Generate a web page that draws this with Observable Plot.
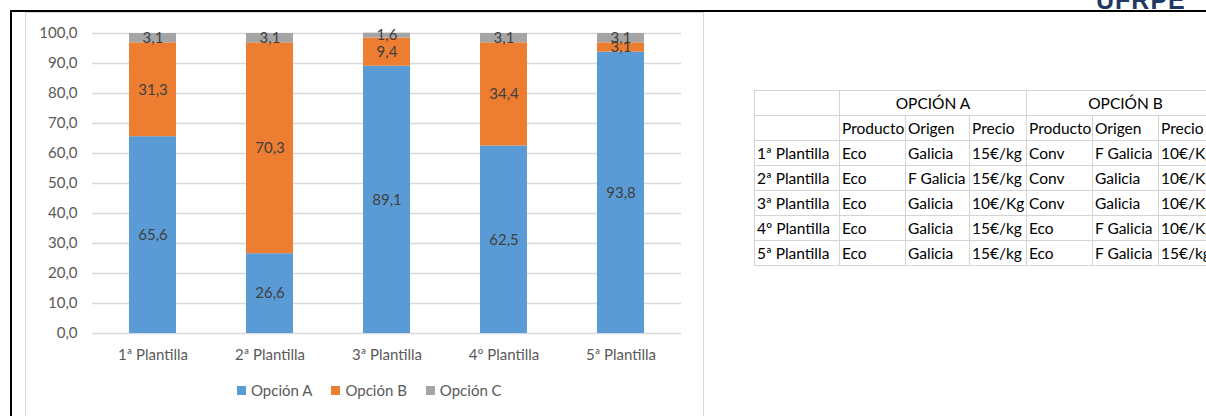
<!DOCTYPE html>
<html>
<head>
<meta charset="utf-8">
<script src="https://cdn.jsdelivr.net/npm/d3@7"></script>
<script src="https://cdn.jsdelivr.net/npm/@observablehq/plot@0.6"></script>
<style>
  html, body { margin: 0; padding: 0; width: 1206px; height: 416px; overflow: hidden; background: #fff; font-family: Lato, "Open Sans", sans-serif; }
  #frameTop { position: absolute; left: 10px; top: 10px; width: 1196px; height: 2px; background: #000; }
  #frameLeft { position: absolute; left: 10px; top: 10px; width: 2px; height: 406px; background: #000; }
  #ufrpe { position: absolute; left: 1096px; top: -14px; font-family: "Liberation Sans", Arial, sans-serif; font-weight: bold; font-size: 25px; color: #1f3864; letter-spacing: 1px; }
  #chartBox { position: absolute; left: 25px; top: 12px; width: 679px; height: 410px; border: 1px solid #d9d9d9; box-sizing: border-box; }
  #chart { position: absolute; left: 0; top: 0; }
  #legend { position: absolute; top: 381px; left: 237px; display: flex; font-size: 15px; color: #595959; white-space: nowrap; }
  .lg { display: flex; align-items: center; margin-right: 19px; }
  .sw { width: 9px; height: 9px; margin-right: 5px; }
  table { position: absolute; left: 754px; top: 90px; width: 470px; border-collapse: collapse; table-layout: fixed; font-family: Lato, "Open Sans", sans-serif; font-size: 15.5px; color: #000; }
  tr { height: 25px; }
  td { border: 1px solid #d4d4d4; padding: 0 2px; white-space: nowrap; overflow: hidden; }
  td.c { text-align: center; }
</style>
</head>
<body>
<div id="frameTop"></div>
<div id="frameLeft"></div>
<div id="ufrpe">UFRPE</div>
<div id="chartBox"></div>
<div id="chart"></div>
<div id="legend"></div>
<table id="tbl"></table>
<script>
const plantillas = ["1ª Plantilla", "2ª Plantilla", "3ª Plantilla", "4º Plantilla", "5ª Plantilla"];
const series = ["Opción A", "Opción B", "Opción C"];
const opcionA = [65.6, 26.6, 89.1, 62.5, 93.8];
const opcionB = [31.3, 70.3, 9.4, 34.4, 3.1];
const opcionC = [3.1, 3.1, 1.6, 3.1, 3.1];
const colors = ["#5b9bd5", "#ed7d31", "#a5a5a5"];
const yTicks = [0, 10, 20, 30, 40, 50, 60, 70, 80, 90, 100];

// table data
const tProducto = ["Eco", "Eco", "Eco", "Eco", "Eco"];
const tOrigenA = ["Galicia", "F Galicia", "Galicia", "Galicia", "Galicia"];
const tPrecioA = ["15€/kg", "15€/kg", "10€/Kg", "15€/kg", "15€/kg"];
const tProductoB = ["Conv", "Conv", "Conv", "Eco", "Eco"];
const tOrigenB = ["F Galicia", "Galicia", "Galicia", "F Galicia", "F Galicia"];
const tPrecioB = ["10€/Kg", "10€/Kg", "10€/Kg", "10€/Kg", "15€/kg"];

const vals = [opcionA, opcionB, opcionC];
const data = [];
series.forEach((s, i) => plantillas.forEach((p, j) => data.push({plantilla: p, serie: s, value: vals[i][j]})));
const fmt = v => d3.format(".1f")(v).replace(".", ",");

const chart = Plot.plot({
  width: 705,
  height: 372,
  marginLeft: 92,
  marginRight: 24,
  marginTop: 33,
  marginBottom: 39,
  style: {fontFamily: "Lato, 'Open Sans', sans-serif", fontSize: "15px", color: "#595959", background: "transparent"},
  x: {domain: plantillas, paddingInner: 0.6, paddingOuter: 0.3, label: null, tickSize: 0, tickPadding: 16},
  y: {domain: [0, 100], ticks: yTicks, tickFormat: fmt, label: null, tickSize: 0, tickPadding: 15},
  color: {domain: series, range: colors},
  marks: [
    Plot.ruleY(yTicks, {stroke: "#d9d9d9", strokeWidth: 1.5}),
    Plot.barY(data, {x: "plantilla", y: "value", fill: "serie", z: "serie"}),
    Plot.text(data, Plot.stackY({x: "plantilla", y: "value", z: "serie", text: d => fmt(d.value), fill: "#404040", fontSize: 15}))
  ]
});
document.getElementById("chart").appendChild(chart);

const lg = document.getElementById("legend");
series.forEach((s, i) => {
  const it = document.createElement("div");
  it.className = "lg";
  it.innerHTML = `<span class="sw" style="background:${colors[i]}"></span><span>${s}</span>`;
  lg.appendChild(it);
});

const colW = [85, 66, 64, 57, 66, 66, 66];
const tbl = document.getElementById("tbl");
const cg = document.createElement("colgroup");
colW.forEach(w => { const c = document.createElement("col"); c.style.width = w + "px"; cg.appendChild(c); });
tbl.appendChild(cg);
let html = `<tr><td></td><td class="c" colspan="3">OPCIÓN A</td><td class="c" colspan="3">OPCIÓN B</td></tr>`;
html += `<tr><td></td><td>Producto</td><td>Origen</td><td>Precio</td><td>Producto</td><td>Origen</td><td>Precio</td></tr>`;
plantillas.forEach((p, i) => {
  html += `<tr><td>${p}</td><td>${tProducto[i]}</td><td>${tOrigenA[i]}</td><td>${tPrecioA[i]}</td><td>${tProductoB[i]}</td><td>${tOrigenB[i]}</td><td>${tPrecioB[i]}</td></tr>`;
});
tbl.insertAdjacentHTML("beforeend", html);
</script>
</body>
</html>
